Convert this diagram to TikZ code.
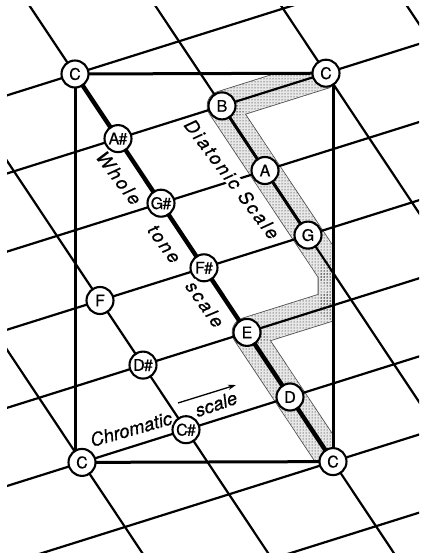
\documentclass[tikz,border=0pt]{standalone}
\usepackage{fontspec}
\newfontfamily\hv{TeX Gyre Heros}
\usetikzlibrary{calc,arrows.meta,patterns}
\pgfdeclarelayer{bandlayer}
\pgfdeclarelayer{gridlayer}
\pgfdeclarelayer{rectlayer}
\pgfsetlayers{bandlayer,gridlayer,rectlayer,main}
\newcommand\bandseg[2]{\fill[banddots] ($(#1)!14.5pt!90:(#2)$) -- ($(#1)!14.5pt!-90:(#2)$) -- ($(#2)!14.5pt!90:(#1)$) -- ($(#2)!14.5pt!-90:(#1)$) -- cycle;}
\begin{document}
\begin{tikzpicture}[x=1pt,y=-1pt,
  note/.style={circle,draw=black,line width=2.1pt,fill=white,minimum size=27pt,inner sep=0pt,font=\hv\fontsize{16}{16}\selectfont\addfontfeature{FakeBold=0.4}},
  gridline/.style={line width=2.2pt,black},
  rectline/.style={line width=3pt,black},
  wholetone/.style={line width=4.4pt,black},
  banddots/.style={pattern=dots,pattern color=black},
  bandedge/.style={line width=30.6pt,black!70,line join=round},
  bandclear/.style={line width=29pt,black!9,line join=round},
  lab/.style={fill=white,inner sep=0pt,font=\hv\itshape\fontsize{18.5}{18.5}\selectfont\addfontfeature{FakeBold=0.4}},
  spaced/.style={font=\hv\itshape\fontsize{18.5}{18.5}\selectfont\addfontfeature{LetterSpace=12,FakeBold=0.4}},
  arr/.style={-{Stealth[length=8pt,width=5pt]},line width=1.3pt}
]
\useasboundingbox (0,0) rectangle (422,556);
% notes (lattice positions)
\node[note] (Ctl) at (75,74) {C};
\node[note] (Ash) at (118,138.6) {A\kern-0.8pt\#};
\node[note] (Gsh) at (161,203.2) {G\kern-0.8pt\#};
\node[note] (Fsh) at (204,267.8) {F\kern-0.8pt\#};
\node[note] (E) at (247,332.4) {E};
\node[note] (D) at (290,397) {D};
\node[note] (Cbr) at (333,461.6) {C};
\node[note] (B) at (222,105.9) {B};
\node[note] (A) at (265,170.5) {A};
\node[note] (G) at (308,235.1) {G};
\node[note] (Ctr) at (326,73.2) {C};
\node[note] (F) at (100,300.5) {F};
\node[note] (Dsh) at (143,365.1) {D\kern-0.8pt\#};
\node[note] (Csh) at (186,429.7) {C\kern-0.8pt\#};
\node[note] (Cbl) at (82,462.4) {C};
% labels
\node[lab,spaced,rotate=-53] (ldia) at (232,179) {Diatonic Scale};
\node[lab,spaced,rotate=-53] (lwh) at (119,178) {Whole};
\node[lab,spaced,rotate=-54] (lto) at (164,244) {tone};
\node[lab,spaced,rotate=-55] (lsc1) at (205,304) {scale};
\node[lab,rotate=16] (lchr) at (131,429) {Chromatic};
\node[lab,rotate=19] (lsc2) at (216,404) {scale};
\coordinate (ar1) at (178,403);
\coordinate (ar2) at (236,385);
\draw[arr] (ar1) -- (ar2);
% diatonic band: dotted interior with thin border
\coordinate (Q) at (333,272.7);
\coordinate (R) at (333,305.4);
\begin{pgfonlayer}{bandlayer}
\begin{scope}
\clip (Ctl.center) rectangle (Cbr.center);
\draw[bandedge] (Ctr.center) -- (B.center) -- (A.center) -- (G.center) -- (Q) -- (R) -- (E.center) -- (D.center) -- (Cbr.center);
\draw[bandclear] (Ctr.center) -- (B.center) -- (A.center) -- (G.center) -- (Q) -- (R) -- (E.center) -- (D.center) -- (Cbr.center);
\bandseg{Ctr.center}{B.center}
\bandseg{B.center}{A.center}
\bandseg{A.center}{G.center}
\bandseg{G.center}{Q}
\bandseg{Q}{R}
\bandseg{R}{E.center}
\bandseg{E.center}{D.center}
\bandseg{D.center}{Cbr.center}
\foreach \v in {B.center,A.center,G.center,Q,R,E.center,D.center} {
  \fill[banddots] (\v) circle[radius=14.5pt];
}
\end{scope}
\end{pgfonlayer}
% lattice
\begin{pgfonlayer}{gridlayer}
\begin{scope}
\clip (7,7) rectangle (419,552);
\foreach \i in {0,...,7} {
  \draw[gridline] ({75+43*\i-416},{74+64.6*\i+130.8}) -- ({75+43*\i+520},{74+64.6*\i-163.5});
}
\foreach \j in {-2,...,3} {
  \draw[gridline] ({75+104*\j-129},{74-32.7*\j-193.8}) -- ({75+104*\j+387},{74-32.7*\j+581.4});
}
\end{scope}
\end{pgfonlayer}
% frame and scales
\begin{pgfonlayer}{rectlayer}
\draw[rectline] (Ctl.center) -- (Ctr.center);
\draw[rectline] (Ctl.center) -- (Ctl.center |- Cbl.center);
\draw[rectline] (Cbl.center) -- (Cbr.center);
\draw[rectline] (Cbr.center) -- (Cbr.center |- Ctr.center);
\draw[wholetone] (Ctl.center) -- (Ash.center) -- (Gsh.center) -- (Fsh.center) -- (E.center) -- (D.center) -- (Cbr.center);
\draw[line width=3pt] (B.center) -- (A.center) -- (G.center);
\end{pgfonlayer}
\end{tikzpicture}
\end{document}
